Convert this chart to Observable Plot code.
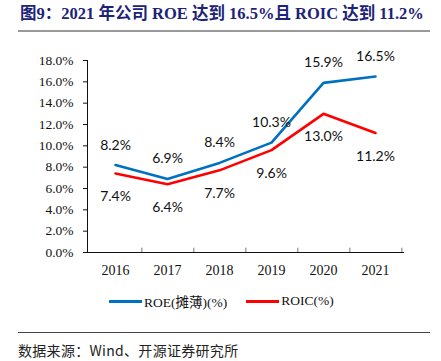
<!DOCTYPE html>
<html><head><meta charset="utf-8">
<script src="https://cdn.jsdelivr.net/npm/d3@7"></script>
<script src="https://cdn.jsdelivr.net/npm/@observablehq/plot@0.6"></script>
<style>
body{margin:0;width:441px;height:361px;position:relative;background:#fff;overflow:hidden}
#title{position:absolute;left:20px;top:0;height:26px;line-height:26px;font:bold 16.5px "Liberation Serif","Noto Sans CJK SC",serif;color:#1c2378;white-space:nowrap}
#tline{position:absolute;left:18px;top:30px;width:412px;height:2px;background:#9a9a9a}
#chart{position:absolute;left:0;top:33px}
#legend{position:absolute;left:109px;top:292px;height:18px;display:flex;align-items:center;font:13.5px "Liberation Serif","Noto Sans CJK SC",serif;color:#111;white-space:nowrap}
#legend .sw{display:inline-block;width:33px;height:3px;margin-right:2px}
#fline{position:absolute;left:18px;top:332px;width:412px;height:1px;background:#444}
#foot{position:absolute;left:18px;top:340px;height:18px;line-height:18px;font:14px "Noto Sans CJK SC",sans-serif;letter-spacing:0.3px;color:#222;white-space:nowrap}
</style></head>
<body>
<div id="title">图9：2021 年公司 ROE 达到 16.5%且 ROIC 达到 11.2%</div>
<div id="tline"></div>
<div id="chart"></div>
<div id="legend"></div>
<div id="fline"></div>
<div id="foot">数据来源：Wind、开源证券研究所</div>
<script>
const years = ["2016","2017","2018","2019","2020","2021"];
const roe = [8.2, 6.9, 8.4, 10.3, 15.9, 16.5];
const roic = [7.4, 6.4, 7.7, 9.6, 13.0, 11.2];
const seriesNames = ["ROE(摊薄)(%)", "ROIC(%)"];
const colors = ["#0070C0", "#FF0000"];
const yTicks = [0, 2, 4, 6, 8, 10, 12, 14, 16, 18];

const rows = [];
years.forEach((y, i) => {
  rows.push({year: y, value: roe[i], series: seriesNames[0]});
  rows.push({year: y, value: roic[i], series: seriesNames[1]});
});
const roeRows = rows.filter(d => d.series === seriesNames[0]);
const roicRows = rows.filter(d => d.series === seriesNames[1]);

const W = 441, ML = 87, MR = 38;
const step = (W - ML - MR) / years.length;

const chart = Plot.plot({
  width: W, height: 250,
  marginLeft: ML, marginRight: MR, marginTop: 27, marginBottom: 31,
  style: {fontFamily: "'Liberation Serif', serif", fontSize: "13.5px", color: "#111", background: "transparent"},
  x: {type: "point", domain: years, padding: 0.5, align: 0.5, label: null, tickSize: 0, tickPadding: 13, line: true},
  y: {domain: [0, 18], ticks: yTicks, tickFormat: d => d.toFixed(1) + "%", label: null, tickSize: 4, tickPadding: 10, line: true},
  color: {domain: seriesNames, range: colors},
  marks: [
    Plot.ruleX(years.slice(0), {x: d => d, dx: step / 2, y1: 0, y2: 0.4, stroke: "#777"}),
    Plot.line(rows, {x: "year", y: "value", z: "series", stroke: "series", strokeWidth: 2.6}),
    Plot.text(roeRows, {x: "year", y: "value", text: d => d.value.toFixed(1) + "%", dy: -20, fontFamily: "Lato, 'Open Sans', sans-serif", fontSize: 14, fill: "#111"}),
    Plot.text(roicRows, {x: "year", y: "value", text: d => d.value.toFixed(1) + "%", dy: 23, fontFamily: "Lato, 'Open Sans', sans-serif", fontSize: 14, fill: "#111"})
  ]
});
chart.querySelectorAll("[aria-label='x-axis'] text, [aria-label='x-axis tick label'] text").forEach(t => t.style.fontSize = "14px");
document.getElementById("chart").appendChild(chart);

const leg = document.getElementById("legend");
seriesNames.forEach((n, i) => {
  const sw = document.createElement("span");
  sw.className = "sw"; sw.style.background = colors[i];
  const tx = document.createElement("span");
  tx.textContent = n; tx.style.marginRight = i === 0 ? "19px" : "0";
  leg.appendChild(sw); leg.appendChild(tx);
});
</script>
</body></html>
